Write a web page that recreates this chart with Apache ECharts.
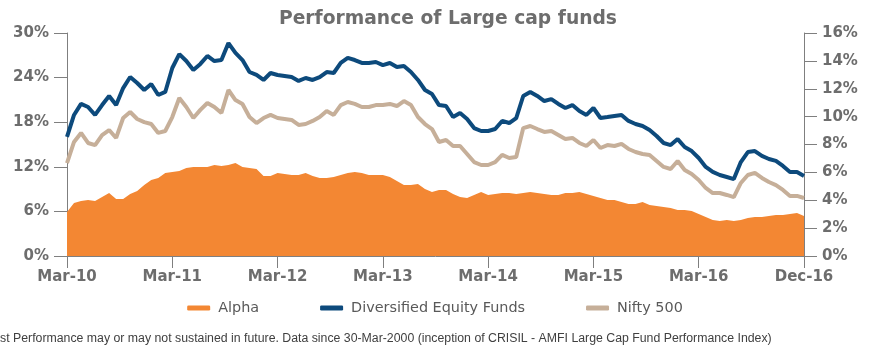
<!DOCTYPE html>
<html>
<head>
<meta charset="utf-8">
<script src="https://cdn.jsdelivr.net/npm/echarts@6/dist/echarts.min.js"></script>
<style>
html,body{margin:0;padding:0;background:#fff;}
#main{width:870px;height:351px;}
</style>
</head>
<body>
<div id="main"></div>
<script>
// x axis ticks, one label every 15 points
var tickLabels = ['Mar-10','Mar-11','Mar-12','Mar-13','Mar-14','Mar-15','Mar-16','Dec-16'];
var step = 15;

// alpha (left axis, %)
var alpha = [5.92,7.13,7.40,7.53,7.40,7.94,8.48,7.67,7.67,8.34,
	8.74,9.55,10.22,10.49,11.17,11.30,11.44,11.84,11.97,11.97,
	11.97,12.24,12.11,12.24,12.51,11.97,11.84,11.70,10.76,10.76,
	11.17,11.03,10.90,10.90,11.17,10.76,10.49,10.49,10.63,10.90,
	11.17,11.30,11.17,10.90,10.90,10.90,10.63,10.09,9.55,9.55,
	9.69,9.01,8.61,8.88,8.88,8.34,7.94,7.80,8.21,8.61,
	8.21,8.34,8.48,8.48,8.34,8.48,8.61,8.48,8.34,8.21,
	8.21,8.48,8.48,8.61,8.34,8.07,7.80,7.53,7.53,7.26,
	7.00,7.00,7.26,6.86,6.73,6.59,6.46,6.19,6.19,6.05,
	5.65,5.25,4.84,4.71,4.84,4.71,4.84,5.11,5.25,5.25,
	5.38,5.52,5.52,5.65,5.78,5.38];

// diversified equity funds (right axis, %)
var equityFunds = [8.54,10.12,10.91,10.69,10.12,10.83,11.48,10.83,12.05,12.84,
	12.41,11.91,12.34,11.55,11.77,13.49,14.49,13.99,13.35,13.78,
	14.35,13.99,14.06,15.28,14.57,14.06,13.20,12.99,12.63,13.13,
	12.99,12.92,12.84,12.56,12.77,12.63,12.84,13.20,13.13,13.85,
	14.21,14.06,13.85,13.85,13.92,13.70,13.85,13.56,13.63,13.20,
	12.63,11.91,11.62,10.83,10.76,9.97,10.26,9.83,9.18,8.97,
	8.97,9.11,9.69,9.54,9.90,11.48,11.77,11.48,11.12,11.26,
	10.91,10.62,10.83,10.40,10.12,10.62,9.90,9.97,10.05,10.12,
	9.69,9.47,9.33,9.04,8.61,8.11,7.96,8.39,7.82,7.53,
	7.03,6.39,6.03,5.81,5.67,5.52,6.74,7.46,7.53,7.18,
	6.96,6.82,6.46,6.03,6.03,5.74];

// nifty 500 (right axis, %)
var nifty500 = [6.67,8.18,8.83,8.11,7.96,8.68,9.04,8.47,9.90,10.33,
	9.83,9.61,9.47,8.83,8.97,9.97,11.34,10.69,9.90,10.48,
	10.98,10.69,10.26,11.91,11.19,10.91,9.97,9.54,9.90,10.12,
	9.90,9.83,9.76,9.40,9.47,9.69,9.97,10.40,10.12,10.83,
	11.05,10.91,10.69,10.69,10.83,10.83,10.91,10.76,11.12,10.83,
	9.97,9.47,9.11,8.18,8.32,7.89,7.89,7.32,6.74,6.53,
	6.53,6.74,7.25,7.03,7.10,9.18,9.33,9.11,8.90,8.97,
	8.68,8.39,8.47,8.11,7.89,8.32,7.75,7.96,7.89,8.04,
	7.68,7.46,7.32,7.25,6.82,6.39,6.24,6.82,6.17,5.88,
	5.45,4.88,4.52,4.52,4.38,4.23,5.24,5.81,5.96,5.60,
	5.31,5.09,4.74,4.31,4.31,4.16];

var categories = [];
for(var i=0;i<alpha.length;i++){
	categories.push(i);
}

var axisColor = '#7f7f7f';
var labelStyle = {
	color: '#6d6d6d',
	fontFamily: 'DejaVu Sans',
	fontWeight: 'bold',
	fontSize: 15
};

function showTick(i){
	return i % step === 0;
}

var myChart = echarts.init(document.getElementById('main'), null, {renderer:'canvas'});
var option = {
	animation: false,
	title: {
		text: 'Performance of Large cap funds',
		left: 274,
		top: 5,
		textStyle: {
			color: '#6d6d6d',
			fontFamily: 'DejaVu Sans',
			fontWeight: 'bold',
			fontSize: 18.7
		}
	},
	grid: {left:67, right:66, top:33, bottom:95},
	legend: {
		data: ['Alpha','Diversified Equity Funds','Nifty 500'],
		bottom: 31,
		left: 'center',
		icon: 'roundRect',
		itemWidth: 23,
		itemHeight: 5,
		itemGap: 61,
		textStyle: {
			color: '#595959',
			fontFamily: 'DejaVu Sans',
			fontSize: 14.4,
			padding: [0, 0, 0, 3]
		}
	},
	xAxis: {
		type: 'category',
		data: categories,
		boundaryGap: false,
		axisLine: {lineStyle: {color: axisColor, width: 1}},
		axisTick: {show: true, length: 12, interval: function(i){ return showTick(i); }, lineStyle: {color: axisColor}},
		axisLabel: {
			interval: function(i){ return showTick(i); },
			margin: 14,
			formatter: function(v, i){ return tickLabels[i / step]; },
			color: labelStyle.color,
			fontFamily: labelStyle.fontFamily,
			fontWeight: labelStyle.fontWeight,
			fontSize: labelStyle.fontSize
		},
		splitLine: {show: false}
	},
	yAxis: [
		{
			type: 'value',
			min: 0, max: 30, interval: 6,
			position: 'left',
			axisLine: {show: true, lineStyle: {color: axisColor}},
			axisTick: {show: true, length: 13, lineStyle: {color: axisColor}},
			axisLabel: {formatter: '{value}%', margin: 18, color: labelStyle.color, fontFamily: labelStyle.fontFamily, fontWeight: labelStyle.fontWeight, fontSize: labelStyle.fontSize},
			splitLine: {show: false}
		},
		{
			type: 'value',
			min: 0, max: 16, interval: 2,
			position: 'right',
			axisLine: {show: true, lineStyle: {color: axisColor}},
			axisTick: {show: true, length: 13, lineStyle: {color: axisColor}},
			axisLabel: {formatter: '{value}%', margin: 18, color: labelStyle.color, fontFamily: labelStyle.fontFamily, fontWeight: labelStyle.fontWeight, fontSize: labelStyle.fontSize},
			splitLine: {show: false}
		}
	],
	series: [
		{
			name: 'Alpha',
			type: 'line',
			yAxisIndex: 0,
			data: alpha,
			showSymbol: false,
			lineStyle: {width: 0},
			itemStyle: {color: '#f38733'},
			areaStyle: {color: '#f38733', opacity: 1},
			z: 1
		},
		{
			name: 'Nifty 500',
			type: 'line',
			yAxisIndex: 1,
			data: nifty500,
			showSymbol: false,
			lineStyle: {width: 4, color: '#c6af99'},
			itemStyle: {color: '#c6af99'},
			z: 2
		},
		{
			name: 'Diversified Equity Funds',
			type: 'line',
			yAxisIndex: 1,
			data: equityFunds,
			showSymbol: false,
			lineStyle: {width: 4, color: '#0d4a7c'},
			itemStyle: {color: '#0d4a7c'},
			z: 3
		}
	],
	graphic: [
		{
			type: 'text',
			left: -15,
			top: 333,
			style: {
				text: 'Past Performance may or may not sustained in future. Data since 30-Mar-2000 (inception of CRISIL - AMFI Large Cap Fund Performance Index)',
				fill: '#404040',
				font: '12.3px "Liberation Sans"'
			}
		}
	]
};
myChart.setOption(option);
</script>
</body>
</html>
